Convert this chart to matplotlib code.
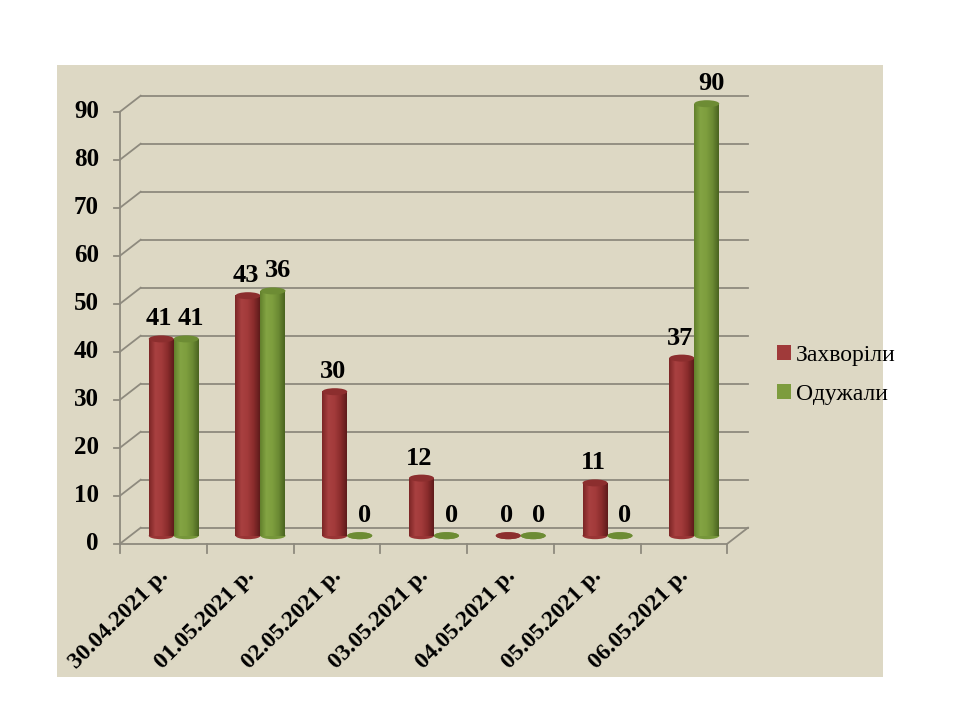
import numpy as np
import matplotlib
matplotlib.use("Agg")
import matplotlib.pyplot as plt
from matplotlib.patches import Ellipse, Patch
from matplotlib.colors import LinearSegmentedColormap

# Data (bar heights as drawn, labels as printed)
dates = ["30.04.2021 р.", "01.05.2021 р.", "02.05.2021 р.", "03.05.2021 р.",
         "04.05.2021 р.", "05.05.2021 р.", "06.05.2021 р."]
sick_heights = [41, 50, 30, 12, 0, 11, 37]
recovered_heights = [41, 51, 0, 0, 0, 0, 90]
sick_labels = ["41", "43", "30", "12", "0", "11", "37"]
recovered_labels = ["41", "36", "0", "0", "0", "0", "90"]
series_names = ["Захворіли", "Одужали"]
yticks = list(range(0, 100, 10))

plt.rcParams['font.family'] = ['Liberation Serif', 'DejaVu Serif']

BG = "#ddd8c4"
GRID = "#8e8a7e"
RED = "#a03a3a"
GREEN = "#7d9c3e"

fig = plt.figure(figsize=(9.6, 7.2), dpi=100)
fig.patch.set_facecolor("white")

# beige slide panel (own axes, behind everything)
bg = fig.add_axes([57 / 960, 1 - 677 / 720, (883 - 57) / 960, (677 - 65) / 720], zorder=0)
bg.set_facecolor(BG)
bg.set_xticks([])
bg.set_yticks([])
for s in bg.spines.values():
    s.set_visible(False)

# axes = back wall of the 3D box
ax = fig.add_axes([140.7 / 960, 1 - 527.7 / 720, 607.3 / 960, 432 / 720], zorder=1)
ax.set_facecolor("none")
for s in ax.spines.values():
    s.set_visible(False)
ax.set_xticks([])
ax.set_yticks([])

n = len(dates)
px_x = 607.3 / n        # pixels per category
px_y = 432 / 90         # pixels per unit
DX = -20.7 / px_x       # depth shift (back wall -> front plane)
DY = -16 / px_y

# back gridlines and the little diagonals to the front axis
for v in yticks:
    ax.plot([0, n], [v, v], color=GRID, lw=1.3, clip_on=False, zorder=1)
    ax.plot([DX, 0], [v + DY, v], color=GRID, lw=1.3, clip_on=False, zorder=1)
    ax.plot([DX - 6 / px_x, DX], [v + DY, v + DY], color=GRID, lw=1.3, clip_on=False, zorder=1)
    ax.text(DX - 21 / px_x, v + DY, str(v), ha="right", va="center",
            fontsize=18, fontweight="bold", clip_on=False)

# front axis, floor edges
ax.plot([DX, DX], [DY, 90 + DY], color=GRID, lw=1.3, clip_on=False, zorder=1)
ax.plot([DX, n + DX], [DY, DY], color=GRID, lw=1.3, clip_on=False, zorder=1)
ax.plot([n + DX, n], [DY, 0], color=GRID, lw=1.3, clip_on=False, zorder=1)
for i in range(n + 1):
    ax.plot([i + DX, i + DX], [DY, DY - 9 / px_y], color=GRID, lw=1.3, clip_on=False, zorder=1)

for i, d in enumerate(dates):
    ax.text(i + 0.5 + DX - 6 / px_x, DY - 22 / px_y, d, rotation=45, ha="right", va="top",
            rotation_mode="anchor", fontsize=17, fontweight="bold", clip_on=False)

cmaps = {RED: LinearSegmentedColormap.from_list("r", ["#7c2626", "#a84040", "#a33b3b", "#8a2c2c", "#5e1b1b"]),
         GREEN: LinearSegmentedColormap.from_list("g", ["#62802c", "#83a443", "#7e9e3e", "#6b8a33", "#4a6320"])}
caps = {RED: "#8c2e2e", GREEN: "#6d8c34"}

w = 25 / px_x
base = DY / 2
cap_h = 7 / px_y
grad = np.linspace(0, 1, 64).reshape(1, -1)


def cylinder(xc, h, color, z):
    x0, x1 = xc - w / 2, xc + w / 2
    ax.add_patch(Ellipse((xc, base), w, cap_h, facecolor=cmaps[color](0.6),
                         edgecolor="none", zorder=z, clip_on=False))
    if h > 0:
        ax.imshow(grad, cmap=cmaps[color], extent=[x0, x1, base, base + h],
                  aspect="auto", zorder=z, clip_on=False)
    ax.add_patch(Ellipse((xc, base + h), w, cap_h, facecolor=caps[color],
                         edgecolor="none", zorder=z + 0.1, clip_on=False))


for i in range(n):
    xc = i + 0.5 + DX / 2
    cylinder(xc - w / 2, sick_heights[i], RED, 3)
    cylinder(xc + w / 2, recovered_heights[i], GREEN, 3.5)
    ax.text(xc - w / 2 - 2 / px_x, sick_heights[i] + base + 20 / px_y, sick_labels[i],
            ha="center", va="center", fontsize=19, fontweight="bold", zorder=6, clip_on=False)
    ax.text(xc + w / 2 + 5 / px_x, recovered_heights[i] + base + 20 / px_y, recovered_labels[i],
            ha="center", va="center", fontsize=19, fontweight="bold", zorder=6, clip_on=False)

ax.set_xlim(0, n)
ax.set_ylim(0, 90)

handles = [Patch(facecolor=RED, edgecolor="none"), Patch(facecolor=GREEN, edgecolor="none")]
fig.legend(handles, series_names, loc="center left", bbox_to_anchor=(777 / 960, 1 - 375 / 720),
           frameon=False, fontsize=17, handlelength=0.6, handleheight=0.6,
           handletextpad=0.2, labelspacing=0.75, borderpad=0, borderaxespad=0)

fig.savefig("out.png", dpi=100, facecolor="white")
